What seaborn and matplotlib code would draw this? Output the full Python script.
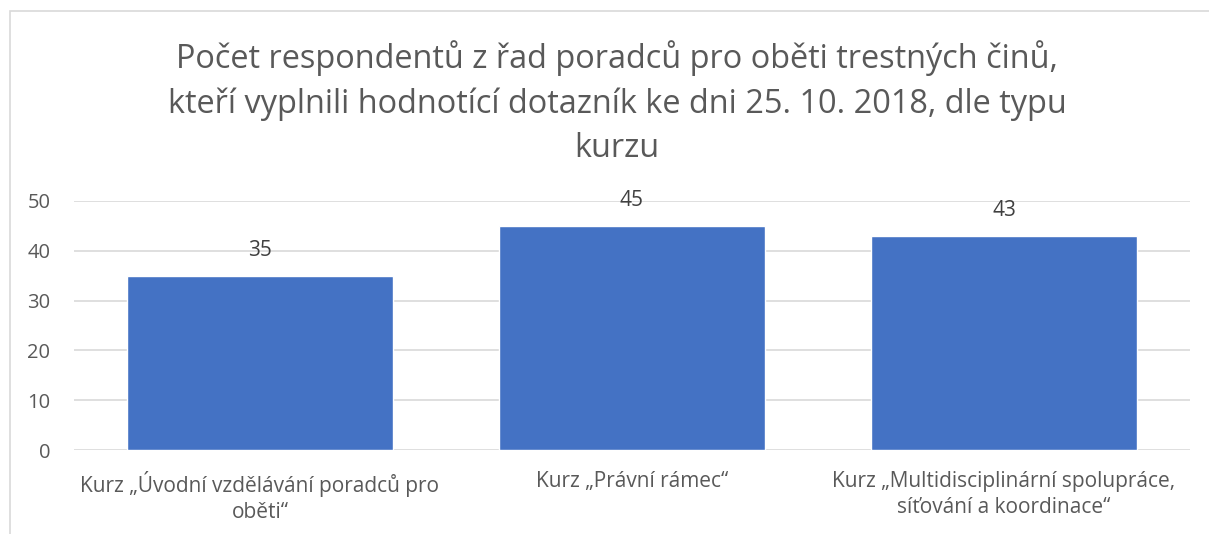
import matplotlib
matplotlib.use("Agg")
import matplotlib.pyplot as plt
import seaborn as sns
import pandas as pd
from matplotlib.patches import Rectangle

categories = [
    "Kurz „Úvodní vzdělávání poradců pro\noběti“",
    "Kurz „Právní rámec“",
    "Kurz „Multidisciplinární spolupráce,\nsíťování a koordinace“",
]
values = [35, 45, 43]
yticks = [0, 10, 20, 30, 40, 50]
title = ("Počet respondentů z řad poradců pro oběti trestných činů,\n"
         "kteří vyplnili hodnotící dotazník ke dni 25. 10. 2018, dle typu\n"
         "kurzu")

sns.set_theme(style="white")
plt.rcParams['font.family'] = ['Open Sans', 'DejaVu Sans']

df = pd.DataFrame({"cat": categories, "val": values})

W, H = 1209, 534
fig = plt.figure(figsize=(W / 100, H / 100), dpi=100)
ax = fig.add_axes([74 / W, 1 - 450 / H, (1190 - 74) / W, (450 - 201) / H])

sns.barplot(data=df, x="cat", y="val", color="#4472C4", saturation=1,
            width=0.715, ax=ax, zorder=3)

ax.set_ylim(0, 50)
ax.set_xlim(-0.5, 2.5)
ax.set_yticks(yticks)
ax.set_yticklabels([str(t) for t in yticks])
ax.grid(axis="y", color="#D9D9D9", linewidth=1.2, zorder=0)
for s in ax.spines.values():
    s.set_visible(False)
ax.set_xlabel("")
ax.set_ylabel("")
ax.tick_params(axis="y", length=0, pad=17, labelsize=14.5, labelcolor="#595959")
ax.tick_params(axis="x", length=0, pad=15, labelsize=15, labelcolor="#595959")
for lbl in ax.get_xticklabels():
    lbl.set_horizontalalignment("center")
    lbl.set_linespacing(1.35)

for i, v in enumerate(values):
    ax.text(i, v + 5, str(v), ha="center", va="center", fontsize=15,
            color="#404040")

fig.text(617 / W, 1 - 40 / H, title, ha="center", va="top", fontsize=23.4,
         color="#595959", linespacing=1.45)

fig.patches.append(Rectangle((10 / W, -0.1), 1.2, 1 - 11 / H + 0.1,
                             transform=fig.transFigure, fill=False,
                             edgecolor="#D9D9D9", linewidth=1.2))

fig.savefig("out.png", dpi=100)
